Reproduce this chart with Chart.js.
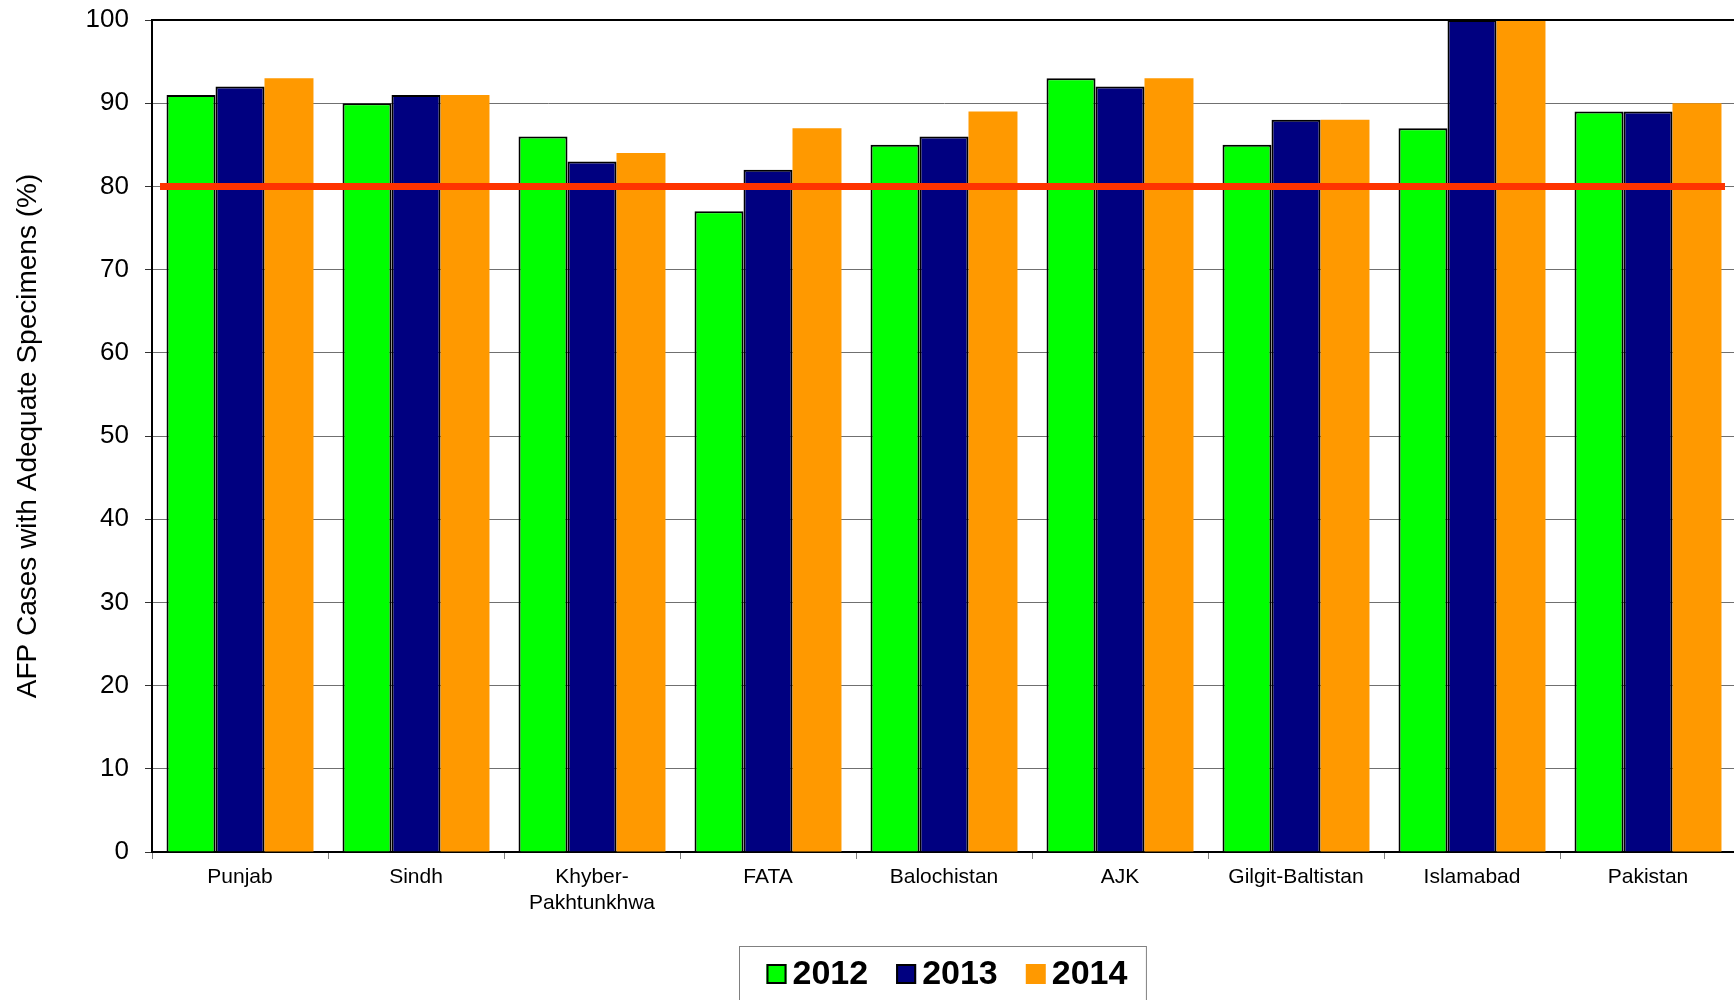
<!DOCTYPE html>
<html>
<head>
<meta charset="utf-8">
<script src="https://cdn.jsdelivr.net/npm/chart.js@4"></script>
<style>
  html, body { margin: 0; padding: 0; overflow: hidden; background: #fff; }
  #wrap { width: 1742px; height: 1000px; position: relative; }
</style>
</head>
<body>
<div id="wrap"><canvas id="grafico"></canvas></div>
<script>
// Dados
const regioes = ['Punjab', 'Sindh', ['Khyber-', 'Pakhtunkhwa'], 'FATA', 'Balochistan', 'AJK', 'Gilgit-Baltistan', 'Islamabad', 'Pakistan'];
const anos = ['2012', '2013', '2014'];
const v2012 = [91, 90, 86, 77, 85, 93, 85, 87, 89];
const v2013 = [92, 91, 83, 82, 86, 92, 88, 100, 89];
const v2014 = [93, 91, 84, 87, 89, 93, 88, 100, 90];
const meta = 80;
const yTicks = [0, 10, 20, 30, 40, 50, 60, 70, 80, 90, 100];

const fonte = 'Liberation Sans, Arial, sans-serif';

// linha vermelha da meta + borda de cima
const linhaMeta = {
  id: 'linhaMeta',
  afterDatasetsDraw(chart) {
    const { ctx, chartArea, scales } = chart;
    const y = scales.y.getPixelForValue(meta);
    ctx.save();
    ctx.strokeStyle = '#FF3300';
    ctx.lineWidth = 7;
    ctx.beginPath();
    ctx.moveTo(chartArea.left + 8, y);
    ctx.lineTo(chartArea.right - 11, y);
    ctx.stroke();
    ctx.strokeStyle = '#000';
    ctx.lineWidth = 2;
    ctx.beginPath();
    ctx.moveTo(chartArea.left, chartArea.top);
    ctx.lineTo(chartArea.right, chartArea.top);
    ctx.lineTo(chartArea.right, chartArea.bottom);
    ctx.stroke();
    ctx.restore();
  }
};

// legenda com caixa
const legendaCaixa = {
  id: 'legendaCaixa',
  afterDraw(chart) {
    const { ctx, chartArea } = chart;
    const sq = 20, gapTexto = 6, gapItem = 28;
    ctx.save();
    ctx.font = 'bold 34px ' + fonte;
    const itens = chart.data.datasets.map(ds => ({ ds, w: ctx.measureText(ds.label).width }));
    let conteudo = 0;
    itens.forEach((it, i) => {
      conteudo += sq + gapTexto + it.w + (i < itens.length - 1 ? gapItem : 0);
    });
    const padL = 27, padR = 19;
    const largura = padL + conteudo + padR;
    const cx = (chartArea.left + chartArea.right) / 2 - 2;
    const bx = Math.round(cx - largura / 2) + 0.5;
    const by = 946.5;
    ctx.strokeStyle = '#808080';
    ctx.lineWidth = 1;
    ctx.strokeRect(bx, by, largura, 90);

    let x = bx + padL;
    const yc = 974;
    itens.forEach(it => {
      ctx.fillStyle = it.ds.backgroundColor;
      ctx.fillRect(x, yc - 10, sq, sq);
      if (it.ds.borderWidth) {
        ctx.strokeStyle = '#000';
        ctx.lineWidth = 2;
        ctx.strokeRect(x + 1, yc - 9, sq - 2, sq - 2);
      }
      x += sq + gapTexto;
      ctx.fillStyle = '#000';
      ctx.textBaseline = 'middle';
      ctx.textAlign = 'left';
      ctx.fillText(it.ds.label, x, yc + 1);
      x += it.w + gapItem;
    });
    ctx.restore();
  }
};

new Chart(document.getElementById('grafico'), {
  type: 'bar',
  data: {
    labels: regioes,
    datasets: [
      { label: anos[0], data: v2012, backgroundColor: '#00FF00', borderColor: '#000', borderWidth: 2 },
      { label: anos[1], data: v2013, backgroundColor: '#000080', borderColor: '#000', borderWidth: 2 },
      { label: anos[2], data: v2014, backgroundColor: '#FF9900', borderWidth: 0 }
    ]
  },
  options: {
    responsive: true,
    maintainAspectRatio: false,
    animation: false,
    layout: { padding: { top: 20, right: 6, bottom: 48, left: 0 } },
    datasets: { bar: { categoryPercentage: 0.835, barPercentage: 1.0 } },
    plugins: {
      legend: { display: false },
      tooltip: { enabled: false }
    },
    scales: {
      x: {
        offset: true,
        grid: { display: true, drawOnChartArea: false, drawTicks: true, tickLength: 7, offset: true, color: '#808080' },
        border: { display: true, color: '#000', width: 2 },
        ticks: { color: '#000', font: { family: fonte, size: 21 }, padding: 6, maxRotation: 0, autoSkip: false },
        afterFit(scale) { scale.height = 100; }
      },
      y: {
        min: 0,
        max: 100,
        afterBuildTicks(scale) { scale.ticks = yTicks.map(v => ({ value: v })); },
        grid: { color: '#707070', lineWidth: 1, tickLength: 7, tickColor: '#333' },
        border: { display: true, color: '#000', width: 2 },
        ticks: { color: '#000', font: { family: fonte, size: 26 }, padding: 16 },
        title: {
          display: true,
          text: 'AFP Cases with Adequate Specimens (%)',
          color: '#000',
          font: { family: fonte, size: 28, weight: 'normal' },
          padding: { top: 11, bottom: 0 }
        },
        afterFit(scale) {
          scale.width = 152;
          scale.paddingTop = 0;
          scale.paddingBottom = 0;
        }
      }
    }
  },
  plugins: [linhaMeta, legendaCaixa]
});
</script>
</body>
</html>
